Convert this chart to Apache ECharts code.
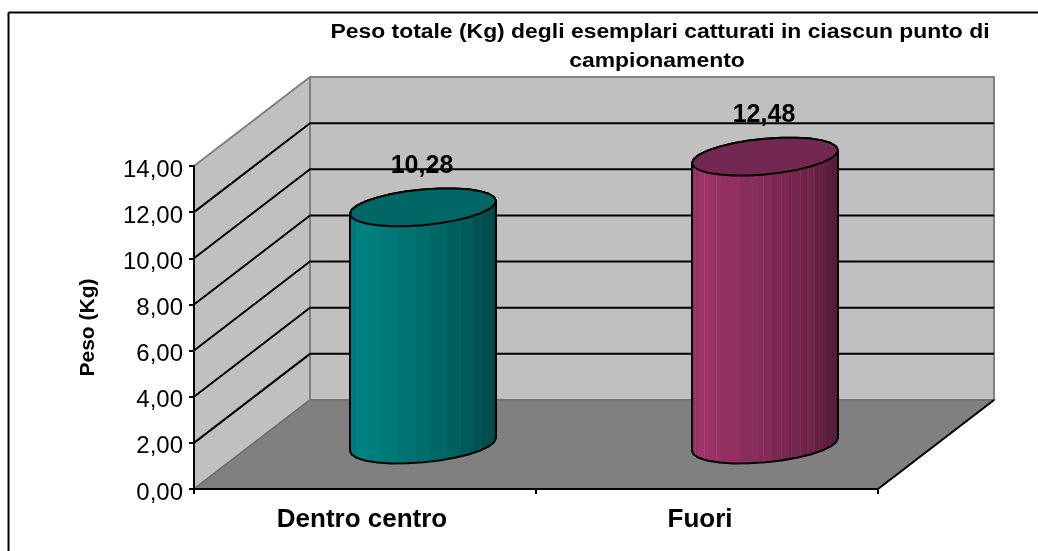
<!DOCTYPE html>
<html><head><meta charset="utf-8">
<style>html,body{margin:0;padding:0;background:#fff}#c{width:1038px;height:551px}</style>
<script src="https://cdn.jsdelivr.net/npm/echarts@6/dist/echarts.min.js"></script>
</head><body><div id="c"></div>
<script>
const titleLines = ['Peso totale (Kg) degli esemplari catturati in ciascun punto di', 'campionamento'];
const axisTitle = 'Peso (Kg)';
const categories = ['Dentro centro', 'Fuori'];
const pesoValues = [10.28, 12.48];
const gridValues = [2, 4, 6, 8, 10, 12];
const yMax = 14, yStep = 2;

// styling
const categoryPadRight = [6, 14];
const baseColors = [[0, 130, 130], [156, 52, 104]];
const capColors = ['#006666', '#722850'];
const seamSets = [[], [.03, .09, .17, .49, .61, .68, .74, .79, .83, .87, .91, .94, .97]];
const bandEdges = [0, .05, .12, .2, .33, .45, .55, .66, .76, .84, .9, .94, .97, 1];
const bandShade = [.94, 1, .97, .93, .88, .84, .79, .74, .69, .64, .6, .57, .54];
const DEPTH_X = 116, DEPTH_Y = -89, BAR_RATIO = 0.427, ELL_K = 0.2135;

const fmt = v => v.toFixed(2).replace('.', ',');
const rgb = (c, f) => `rgb(${c.map(x => Math.round(Math.min(255, x * f))).join(',')})`;
function bodyStops(base, seams) {
  let stops = [];
  bandShade.forEach((s, i) => {
    stops.push({ offset: bandEdges[i], color: rgb(base, s) }, { offset: bandEdges[i + 1], color: rgb(base, s) });
  });
  seams.forEach(p => {
    const i = bandEdges.findIndex((e, k) => p >= e && p < bandEdges[k + 1]);
    const s = bandShade[i], d = .004;
    stops.push({ offset: p - d, color: rgb(base, s) }, { offset: p - d, color: rgb(base, s * 1.12) },
      { offset: p + d, color: rgb(base, s * 1.12) }, { offset: p + d, color: rgb(base, s) });
  });
  return stops.map((s, i) => [s, i]).sort((a, b) => a[0].offset - b[0].offset || a[1] - b[1]).map(a => a[0]);
}

function renderShell(params, api) {
  const g = params.coordSys;
  const x0 = g.x, x1 = g.x + g.width, y0 = g.y + g.height, yT = g.y;
  const stroke = { stroke: '#808080', lineWidth: 2, lineJoin: 'round' };
  const P = pts => ({ type: 'polygon', shape: { points: pts } });
  return { type: 'group', children: [
    { ...P([[x0 + DEPTH_X, yT + DEPTH_Y], [x1 + DEPTH_X, yT + DEPTH_Y], [x1 + DEPTH_X, y0 + DEPTH_Y], [x0 + DEPTH_X, y0 + DEPTH_Y]]), style: { fill: '#c0c0c0', ...stroke } },
    { ...P([[x0, yT], [x0 + DEPTH_X, yT + DEPTH_Y], [x0 + DEPTH_X, y0 + DEPTH_Y], [x0, y0]]), style: { fill: '#c0c0c0', ...stroke } },
    { ...P([[x0, y0], [x0 + DEPTH_X, y0 + DEPTH_Y], [x1 + DEPTH_X, y0 + DEPTH_Y], [x1, y0]]), style: { fill: '#808080', stroke: '#6e6e6e', lineWidth: 1.5 } },
    { type: 'line', shape: { x1: x1, y1: y0, x2: x1 + DEPTH_X, y2: y0 + DEPTH_Y }, style: { stroke: '#000', lineWidth: 2 } },
    { type: 'line', shape: { x1: x0, y1: yT, x2: x0, y2: y0 }, style: { stroke: '#000', lineWidth: 2 } }
  ] };
}

function renderGrid(params, api) {
  const g = params.coordSys;
  const y = api.coord([0, api.value(1)])[1];
  const x0 = g.x, x1 = g.x + g.width;
  return { type: 'polyline', shape: { points: [[x0, y], [x0 + DEPTH_X, y + DEPTH_Y], [x1 + DEPTH_X, y + DEPTH_Y]] },
    style: { stroke: '#000', lineWidth: 2, fill: null } };
}

function ellipseArc(c, ux, vx, vy, from, to, n) {
  const pts = [];
  for (let i = 0; i <= n; i++) {
    const t = from + (to - from) * i / n;
    pts.push([c[0] + ux * Math.cos(t) + vx * Math.sin(t), c[1] + vy * Math.sin(t)]);
  }
  return pts;
}

function renderBar(params, api) {
  const idx = api.value(0), val = api.value(1);
  const base = api.coord([idx, 0]), top = api.coord([idx, val]);
  const hw = api.size([1, 0])[0] * BAR_RATIO / 2;
  const vx = DEPTH_X * ELL_K, vy = DEPTH_Y * ELL_K, ux = Math.sqrt(hw * hw - vx * vx);
  const cB = [base[0] + DEPTH_X / 2, base[1] + DEPTH_Y / 2];
  const cT = [top[0] + DEPTH_X / 2, top[1] + DEPTH_Y / 2];
  const t0 = Math.atan2(vx, ux);
  const lowB = ellipseArc(cB, ux, vx, vy, t0, t0 - Math.PI, 14);
  const upT = ellipseArc(cT, ux, vx, vy, t0 + Math.PI, t0, 14);
  const cap = ellipseArc(cT, ux, vx, vy, t0, t0 + Math.PI * 2, 28);
  return { type: 'group', children: [
    { type: 'polygon', shape: { points: lowB.concat(upT) },
      style: { fill: new echarts.graphic.LinearGradient(0, 0, 1, 0, bodyStops(baseColors[idx], seamSets[idx])), stroke: '#000', lineWidth: 2, lineJoin: 'round' } },
    { type: 'polygon', shape: { points: cap }, style: { fill: capColors[idx], stroke: '#000', lineWidth: 2, lineJoin: 'round' } },
    { type: 'text', style: { text: fmt(val), x: cT[0] - 1, y: cT[1] - 41.5, align: 'center', verticalAlign: 'middle',
        font: 'bold 25px "Liberation Sans", Arial, sans-serif', fill: '#000' } }
  ] };
}

const titleFont = 'bold 20px "Liberation Sans", Arial, sans-serif';
const chart = echarts.init(document.getElementById('c'), null, { renderer: 'canvas' });
chart.setOption({
  animation: false,
  backgroundColor: '#fff',
  graphic: [
    { type: 'line', shape: { x1: 8.5, y1: 12.5, x2: 1038, y2: 12.5 }, style: { stroke: '#000', lineWidth: 2 } },
    { type: 'line', shape: { x1: 8.5, y1: 12.5, x2: 8.5, y2: 551 }, style: { stroke: '#000', lineWidth: 2 } },
    { type: 'text', x: 660, y: 32, scaleX: 1.145, style: { text: titleLines[0], x: 0, y: 0, align: 'center', verticalAlign: 'middle', font: titleFont, fill: '#000' } },
    { type: 'text', x: 657, y: 61, scaleX: 1.145, style: { text: titleLines[1], x: 0, y: 0, align: 'center', verticalAlign: 'middle', font: titleFont, fill: '#000' } }
  ],
  grid: { left: 194, top: 166, width: 684, height: 323 },
  xAxis: { type: 'category', z: 5,
    data: categories.map((c, i) => ({ value: c, textStyle: { padding: [0, categoryPadRight[i], 0, 0] } })),
    axisLine: { lineStyle: { color: '#000', width: 2 } },
    axisTick: { show: true, length: 5, lineStyle: { color: '#000', width: 2 } },
    axisLabel: { color: '#000', fontFamily: '"Liberation Sans"', fontSize: 26, fontWeight: 'bold', margin: 18 } },
  yAxis: { type: 'value', min: 0, max: yMax, interval: yStep, z: 5,
    name: axisTitle, nameLocation: 'middle', nameRotate: 90, nameGap: 95,
    nameTextStyle: { color: '#000', fontFamily: '"Liberation Sans"', fontSize: 21, fontWeight: 'bold' },
    axisLine: { show: true, lineStyle: { color: '#000', width: 2 } },
    axisTick: { show: true, length: 5, lineStyle: { color: '#000', width: 2 } },
    splitLine: { show: false },
    axisLabel: { color: '#000', margin: 11, formatter: v => '{t|' + fmt(v) + '}',
      rich: { t: { color: '#000', fontFamily: '"Liberation Sans"', fontSize: 24, padding: [8, 0, 0, 0] } } } },
  series: [
    { type: 'custom', name: 'shell', clip: false, z: 1, silent: true, renderItem: renderShell, data: [[0, 0]], encode: { x: 0, y: 1 } },
    { type: 'custom', name: 'griglia', clip: false, z: 2, silent: true, renderItem: renderGrid, data: gridValues.map(v => [0, v]), encode: { x: 0, y: 1 } },
    { type: 'custom', name: 'Peso', clip: false, z: 3, renderItem: renderBar, data: pesoValues.map((v, i) => [i, v]), encode: { x: 0, y: 1 } }
  ]
});
</script></body></html>
